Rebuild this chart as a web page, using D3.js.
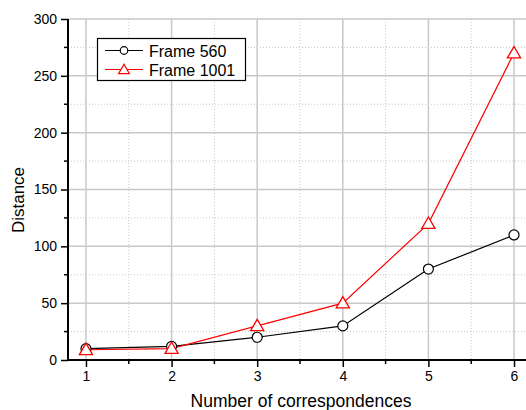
<!DOCTYPE html>
<html>
<head>
<meta charset="utf-8">
<script src="https://cdn.jsdelivr.net/npm/d3@7"></script>
<style>
  body { margin: 0; background: #fff; }
  svg { font-family: "Liberation Sans", Arial, sans-serif; }
</style>
</head>
<body>
<svg width="526" height="410"></svg>
<script>
// data
const correspondences = [1, 2, 3, 4, 5, 6];
const frame560 = [10, 12, 20, 30, 80, 110];
const frame1001 = [9, 10, 30, 50, 120, 270];
const yTicks = [0, 50, 100, 150, 200, 250, 300];
const yMinor = [25, 75, 125, 175, 225, 275];
const xMinor = [1.5, 2.5, 3.5, 4.5, 5.5];

const svg = d3.select("svg");
const plotL = 68, plotT = 19, plotR = 526, plotB = 360;

const x = d3.scaleLinear().domain([0.79, 6.14]).range([plotL, plotR]);
const y = d3.scaleLinear().domain([0, 300]).range([plotB, plotT]);

// grid
const grid = svg.append("g");
grid.selectAll(".vmaj").data(correspondences).join("line")
  .attr("x1", d => x(d)).attr("x2", d => x(d))
  .attr("y1", plotT).attr("y2", plotB)
  .attr("stroke", "#c8c8c8").attr("stroke-width", 1.5);
grid.selectAll(".vmin").data(xMinor).join("line")
  .attr("x1", d => x(d)).attr("x2", d => x(d))
  .attr("y1", plotT).attr("y2", plotB)
  .attr("stroke", "#c8c8c8").attr("stroke-dasharray", "1,2");
grid.selectAll(".hmaj").data(yTicks.slice(1)).join("line")
  .attr("x1", plotL).attr("x2", plotR)
  .attr("y1", d => y(d)).attr("y2", d => y(d))
  .attr("stroke", "#c8c8c8").attr("stroke-width", 1.5);
grid.selectAll(".hmin").data(yMinor).join("line")
  .attr("x1", plotL).attr("x2", plotR)
  .attr("y1", d => y(d)).attr("y2", d => y(d))
  .attr("stroke", "#c8c8c8").attr("stroke-dasharray", "1,2");

// axes
const xAxis = svg.append("g").attr("transform", `translate(0,${plotB})`)
  .call(d3.axisBottom(x).tickValues(correspondences).tickFormat(d3.format("d")).tickSize(7).tickPadding(4));
xAxis.append("g").selectAll("line").data(xMinor).join("line")
  .attr("x1", d => x(d)).attr("x2", d => x(d)).attr("y1", 0).attr("y2", 4)
  .attr("stroke", "#000").attr("stroke-width", 1.5);
const yAxis = svg.append("g").attr("transform", `translate(${plotL},0)`)
  .call(d3.axisLeft(y).tickValues(yTicks).tickSize(7).tickPadding(4));
yAxis.append("g").selectAll("line").data(yMinor).join("line")
  .attr("x1", 0).attr("x2", -4).attr("y1", d => y(d)).attr("y2", d => y(d))
  .attr("stroke", "#000").attr("stroke-width", 1.5);

[xAxis, yAxis].forEach(a => {
  a.select(".domain").remove();
  a.selectAll(".tick line").attr("stroke-width", 1.5);
  a.selectAll("text").attr("font-size", 14).attr("fill", "#000")
    .attr("font-family", "Liberation Sans, Arial, sans-serif");
});
svg.append("line").attr("x1", plotL).attr("x2", plotR).attr("y1", plotB).attr("y2", plotB)
  .attr("stroke", "#000").attr("stroke-width", 2);
svg.append("line").attr("x1", plotL).attr("x2", plotL).attr("y1", plotT).attr("y2", plotB)
  .attr("stroke", "#000").attr("stroke-width", 2);

// axis titles
svg.append("text").attr("x", 301).attr("y", 407).attr("text-anchor", "middle")
  .attr("font-size", 17.5).text("Number of correspondences");
svg.append("text").attr("transform", "translate(24,200) rotate(-90)")
  .attr("text-anchor", "middle").attr("font-size", 17).text("Distance");

// series
const line = d3.line().x((d, i) => x(correspondences[i])).y(d => y(d));
const tri = d3.symbol().type(d3.symbolTriangle).size(75);
const triSmall = d3.symbol().type(d3.symbolTriangle).size(50);

svg.append("path").datum(frame560).attr("d", line)
  .attr("fill", "none").attr("stroke", "#000").attr("stroke-width", 1.2);
svg.append("path").datum(frame1001).attr("d", line)
  .attr("fill", "none").attr("stroke", "#ff0000").attr("stroke-width", 1.2);

svg.append("g").selectAll("circle").data(frame560).join("circle")
  .attr("cx", (d, i) => x(correspondences[i])).attr("cy", d => y(d)).attr("r", 5)
  .attr("fill", "#fff").attr("stroke", "#000").attr("stroke-width", 1.2);
svg.append("g").selectAll("path").data(frame1001).join("path")
  .attr("transform", (d, i) => `translate(${x(correspondences[i])},${y(d) + 1})`)
  .attr("d", tri).attr("fill", "#fff").attr("stroke", "#ff0000").attr("stroke-width", 1.3);

// legend
const lg = svg.append("g");
lg.append("rect").attr("x", 97.5).attr("y", 38.5).attr("width", 148).attr("height", 42)
  .attr("fill", "#fff").attr("stroke", "#000").attr("stroke-width", 1.2);
const entries = [
  { name: "Frame 560", color: "#000", mark: "circle" },
  { name: "Frame 1001", color: "#ff0000", mark: "tri" }
];
entries.forEach((e, i) => {
  const cy = 50.5 + i * 19;
  lg.append("line").attr("x1", 105).attr("x2", 143).attr("y1", cy).attr("y2", cy)
    .attr("stroke", e.color).attr("stroke-width", 1.2);
  if (e.mark === "circle") {
    lg.append("circle").attr("cx", 124).attr("cy", cy).attr("r", 3.8)
      .attr("fill", "#fff").attr("stroke", e.color).attr("stroke-width", 1.2);
  } else {
    lg.append("path").attr("transform", `translate(124,${cy + 1})`).attr("d", triSmall)
      .attr("fill", "#fff").attr("stroke", e.color).attr("stroke-width", 1.2);
  }
  lg.append("text").attr("x", 149).attr("y", cy + 6).attr("font-size", 16).text(e.name);
});
</script>
</body>
</html>
